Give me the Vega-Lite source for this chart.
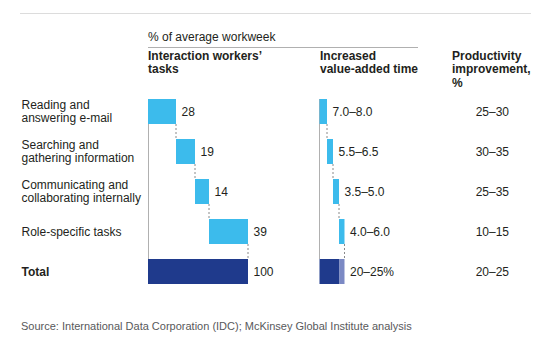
{
  "$schema": "https://vega.github.io/schema/vega-lite/v6.json",
  "width": 511,
  "height": 185,
  "autosize": {"type": "none"},
  "padding": {"left": 20, "top": 99, "right": 11, "bottom": 66},
  "background": "white",
  "config": {
    "font": "Liberation Sans",
    "view": {"stroke": null},
    "text": {"fontSize": 12, "color": "#231f20"}
  },
  "title": {
    "text": "Source: International Data Corporation (IDC); McKinsey Global Institute analysis",
    "orient": "bottom",
    "anchor": "start",
    "frame": "bounds",
    "fontSize": 11,
    "fontWeight": "normal",
    "color": "#58595b",
    "offset": 37,
    "dx": 1.5
  },
  "datasets": {
    "col1": [
      {"task": "Reading and\nanswering e-mail", "next": "Searching and\ngathering information", "start": 0, "end": 28, "value": "28", "kind": "task"},
      {"task": "Searching and\ngathering information", "next": "Communicating and\ncollaborating internally", "start": 28, "end": 47, "value": "19", "kind": "task"},
      {"task": "Communicating and\ncollaborating internally", "next": "Role-specific tasks", "start": 47, "end": 61, "value": "14", "kind": "task"},
      {"task": "Role-specific tasks", "next": "Total", "start": 61, "end": 100, "value": "39", "kind": "task"},
      {"task": "Total", "next": null, "start": 0, "end": 100, "value": "100", "kind": "total"}
    ],
    "col2": [
      {"task": "Reading and\nanswering e-mail", "next": "Searching and\ngathering information", "start": 0, "end": 7.5, "label": "7.0–8.0", "kind": "task"},
      {"task": "Searching and\ngathering information", "next": "Communicating and\ncollaborating internally", "start": 7.5, "end": 13.5, "label": "5.5–6.5", "kind": "task"},
      {"task": "Communicating and\ncollaborating internally", "next": "Role-specific tasks", "start": 13.5, "end": 19.5, "label": "3.5–5.0", "kind": "task"},
      {"task": "Role-specific tasks", "next": "Total", "start": 19.5, "end": 25, "label": "4.0–6.0", "kind": "task"},
      {"task": "Total", "next": null, "start": 0, "end": 20, "label": "", "kind": "total"},
      {"task": "Total", "next": null, "start": 20, "end": 25, "label": "20–25%", "kind": "total range"}
    ],
    "col3": [
      {"task": "Reading and\nanswering e-mail", "prod": "25–30"},
      {"task": "Searching and\ngathering information", "prod": "30–35"},
      {"task": "Communicating and\ncollaborating internally", "prod": "25–35"},
      {"task": "Role-specific tasks", "prod": "10–15"},
      {"task": "Total", "prod": "20–25"}
    ],
    "headers": [
      {"column": "group", "text": "% of average workweek"},
      {"column": "tasks", "text": "Interaction workers’\ntasks"},
      {"column": "time", "text": "Increased\nvalue-added time"},
      {"column": "prod", "text": "Productivity\nimprovement,\n%"}
    ]
  },
  "layer": [
    {
      "data": {"name": "col1"},
      "transform": [{"filter": "datum.next != null"}],
      "mark": {"type": "rule", "color": "#b0b0b0", "strokeWidth": 1},
      "encoding": {
        "y": {
          "field": "task", "type": "nominal", "sort": null, "bandPosition": 0, "title": null,
          "scale": {
            "domain": ["Reading and\nanswering e-mail", "Searching and\ngathering information", "Communicating and\ncollaborating internally", "Role-specific tasks", "Total"],
            "paddingInner": 0.375, "paddingOuter": 0
          },
          "axis": {
            "domain": false, "ticks": false, "grid": false,
            "labelAlign": "left", "labelPadding": -1, "labelFontSize": 12,
            "labelColor": "#231f20", "labelLineHeight": 13.5, "labelLimit": 0,
            "labelOverlap": false, "labelFlush": false,
            "labelExpr": "split(datum.value, '\\n')",
            "labelOffset": {"condition": {"test": "indexof(datum.value, '\\n') >= 0", "value": -6.75}, "value": 0},
            "labelFontWeight": {"condition": {"test": "datum.value === 'Total'", "value": "bold"}, "value": "normal"}
          }
        },
        "y2": {"field": "next", "bandPosition": 0},
        "x": {"datum": 0, "type": "quantitative", "scale": {"domain": [0, 100], "range": [128.5, 228.5]}, "axis": null}
      }
    },
    {
      "data": {"name": "col1"},
      "transform": [{"filter": "datum.next != null"}],
      "mark": {"type": "rule", "color": "#8a8a8a", "strokeWidth": 1, "strokeDash": [2, 2]},
      "encoding": {
        "y": {"field": "task", "type": "nominal", "bandPosition": 1},
        "y2": {"field": "next", "bandPosition": 0},
        "x": {"field": "end", "type": "quantitative", "scale": {"domain": [0, 100], "range": [128, 228]}, "axis": null}
      }
    },
    {
      "data": {"name": "col1"},
      "mark": {"type": "bar"},
      "encoding": {
        "y": {"field": "task", "type": "nominal"},
        "x": {"field": "start", "type": "quantitative", "scale": {"domain": [0, 100], "range": [128, 228]}, "axis": null},
        "x2": {"field": "end"},
        "color": {"field": "kind", "type": "nominal", "scale": {"domain": ["task", "total", "total range"], "range": ["#3cbbec", "#1f3a8c", "#7b89c4"]}, "legend": null}
      }
    },
    {
      "data": {"name": "col1"},
      "mark": {"type": "text", "align": "left", "baseline": "middle", "dx": 5.5, "fontSize": 12},
      "encoding": {
        "y": {"field": "task", "type": "nominal"},
        "x": {"field": "end", "type": "quantitative", "scale": {"domain": [0, 100], "range": [128, 228]}, "axis": null},
        "text": {"field": "value"}
      }
    },
    {
      "data": {"name": "col2"},
      "transform": [{"filter": "datum.next != null"}],
      "mark": {"type": "rule", "color": "#b0b0b0", "strokeWidth": 1},
      "encoding": {
        "y": {"field": "task", "type": "nominal", "bandPosition": 0},
        "y2": {"field": "next", "bandPosition": 0},
        "x": {"datum": 0, "type": "quantitative", "scale": {"domain": [0, 25], "range": [299.5, 324.5]}, "axis": null}
      }
    },
    {
      "data": {"name": "col2"},
      "transform": [{"filter": "datum.next != null"}],
      "mark": {"type": "rule", "color": "#8a8a8a", "strokeWidth": 1, "strokeDash": [2, 2]},
      "encoding": {
        "y": {"field": "task", "type": "nominal", "bandPosition": 1},
        "y2": {"field": "next", "bandPosition": 0},
        "x": {"field": "end", "type": "quantitative", "scale": {"domain": [0, 25], "range": [299.5, 324.5]}, "axis": null}
      }
    },
    {
      "data": {"name": "col2"},
      "mark": {"type": "bar"},
      "encoding": {
        "y": {"field": "task", "type": "nominal"},
        "x": {"field": "start", "type": "quantitative", "scale": {"domain": [0, 25], "range": [299.5, 324.5]}, "axis": null},
        "x2": {"field": "end"},
        "color": {"field": "kind", "type": "nominal", "scale": {"domain": ["task", "total", "total range"], "range": ["#3cbbec", "#1f3a8c", "#7b89c4"]}, "legend": null}
      }
    },
    {
      "data": {"name": "col2"},
      "mark": {"type": "text", "align": "left", "baseline": "middle", "dx": 5.5, "fontSize": 12},
      "encoding": {
        "y": {"field": "task", "type": "nominal"},
        "x": {"field": "end", "type": "quantitative", "scale": {"domain": [0, 25], "range": [299.5, 324.5]}, "axis": null},
        "text": {"field": "label"}
      }
    },
    {
      "data": {"name": "col3"},
      "mark": {"type": "text", "align": "right", "baseline": "middle", "fontSize": 12},
      "encoding": {
        "y": {"field": "task", "type": "nominal"},
        "x": {"datum": 1, "type": "quantitative", "scale": {"domain": [0, 1], "range": [432, 489]}, "axis": null},
        "text": {"field": "prod"}
      }
    },
    {
      "data": {"name": "headers"},
      "transform": [{"filter": "datum.column === 'group'"}],
      "mark": {"type": "text", "align": "left", "baseline": "alphabetic", "dy": -70.5, "fontSize": 12},
      "encoding": {
        "y": {"datum": "Reading and\nanswering e-mail", "type": "nominal"},
        "x": {"datum": 0, "type": "quantitative", "scale": {"domain": [0, 100], "range": [128, 228]}, "axis": null},
        "text": {"field": "text"}
      }
    },
    {
      "data": {"name": "headers"},
      "transform": [{"filter": "datum.column === 'tasks'"}],
      "mark": {"type": "text", "align": "left", "baseline": "alphabetic", "dy": -52, "fontSize": 12, "fontWeight": "bold", "lineBreak": "\n", "lineHeight": 13.5},
      "encoding": {
        "y": {"datum": "Reading and\nanswering e-mail", "type": "nominal"},
        "x": {"datum": 0, "type": "quantitative", "scale": {"domain": [0, 100], "range": [128, 228]}, "axis": null},
        "text": {"field": "text"}
      }
    },
    {
      "data": {"name": "headers"},
      "transform": [{"filter": "datum.column === 'time'"}],
      "mark": {"type": "text", "align": "left", "baseline": "alphabetic", "dy": -52, "fontSize": 12, "fontWeight": "bold", "lineBreak": "\n", "lineHeight": 13.5},
      "encoding": {
        "y": {"datum": "Reading and\nanswering e-mail", "type": "nominal"},
        "x": {"datum": 0, "type": "quantitative", "scale": {"domain": [0, 25], "range": [300, 325]}, "axis": null},
        "text": {"field": "text"}
      }
    },
    {
      "data": {"name": "headers"},
      "transform": [{"filter": "datum.column === 'prod'"}],
      "mark": {"type": "text", "align": "left", "baseline": "alphabetic", "dy": -52, "fontSize": 12, "fontWeight": "bold", "lineBreak": "\n", "lineHeight": 13.5},
      "encoding": {
        "y": {"datum": "Reading and\nanswering e-mail", "type": "nominal"},
        "x": {"datum": 0, "type": "quantitative", "scale": {"domain": [0, 1], "range": [432, 489]}, "axis": null},
        "text": {"field": "text"}
      }
    },
    {
      "data": {"name": "headers"},
      "transform": [{"filter": "datum.column === 'group'"}],
      "mark": {"type": "rule", "color": "#b0b0b0", "strokeWidth": 1, "yOffset": -64},
      "encoding": {
        "y": {"datum": "Reading and\nanswering e-mail", "type": "nominal"},
        "x": {"datum": 0, "type": "quantitative", "scale": {"domain": [0, 100], "range": [128, 228]}, "axis": null},
        "x2": {"datum": 270}
      }
    },
    {
      "data": {"name": "headers"},
      "transform": [{"filter": "datum.column === 'group'"}],
      "mark": {"type": "rule", "color": "#dcdcdc", "strokeWidth": 1, "yOffset": -98},
      "encoding": {
        "y": {"datum": "Reading and\nanswering e-mail", "type": "nominal"}
      }
    }
  ],
  "resolve": {"scale": {"x": "independent"}}
}
